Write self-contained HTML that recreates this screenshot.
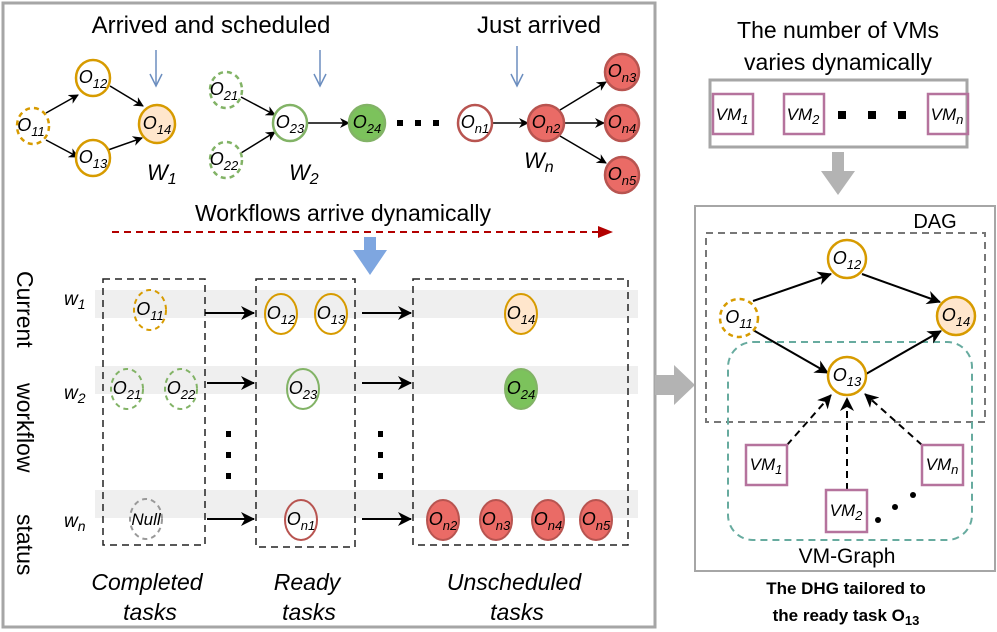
<!DOCTYPE html>
<html><head><meta charset="utf-8"><style>
body{margin:0;background:#fff}
svg{display:block}
text{font-family:"Liberation Sans",sans-serif}
.n{font-style:italic;font-size:18px;text-anchor:middle}
.s{font-size:13px}
</style></head><body>
<svg width="997" height="632" viewBox="0 0 997 632" xmlns="http://www.w3.org/2000/svg">
<defs>
<marker id="a" markerWidth="10" markerHeight="10" refX="9" refY="5" orient="auto" markerUnits="userSpaceOnUse"><path d="M0,0 L10,5 L0,10 L3,5 z" fill="#000"/></marker>
<marker id="ab" markerWidth="14" markerHeight="14" refX="13" refY="7" orient="auto" markerUnits="userSpaceOnUse"><path d="M0,0 L14,7 L0,14 L4,7 z" fill="#000"/></marker>
</defs>
<rect x="3" y="3" width="652" height="624" fill="none" stroke="#A6A6A6" stroke-width="3"/>
<text x="211" y="33" font-size="24" text-anchor="middle">Arrived and scheduled</text>
<text x="539" y="33" font-size="24" text-anchor="middle">Just arrived</text>
<g stroke="#6C8EBF" stroke-width="1.5" fill="none">
<line x1="156" y1="50" x2="156" y2="86"/><path d="M150,74 L156,86 L162,74"/>
<line x1="320" y1="50" x2="320" y2="86"/><path d="M314,74 L320,86 L326,74"/>
<line x1="517" y1="46" x2="517" y2="86"/><path d="M511,74 L517,86 L523,74"/>
</g>
<g stroke="#000" stroke-width="1.5" marker-end="url(#a)">
<line x1="46" y1="113" x2="78" y2="95"/><line x1="46" y1="140" x2="78" y2="157"/>
<line x1="110" y1="86" x2="143" y2="106"/><line x1="108" y1="150" x2="142" y2="138"/>
<line x1="241" y1="97" x2="275" y2="115"/><line x1="241" y1="153" x2="275" y2="132"/>
<line x1="307" y1="123" x2="349" y2="123"/>
<line x1="492" y1="123" x2="528" y2="123"/>
<line x1="560" y1="110" x2="606" y2="82"/><line x1="563" y1="123" x2="604" y2="123"/><line x1="560" y1="136" x2="606" y2="163"/>
</g>
<g stroke-width="2.5">
<ellipse cx="33" cy="126" rx="16" ry="18" fill="#fff" stroke="#D79B00" stroke-dasharray="5,4"/>
<ellipse cx="93" cy="78" rx="17" ry="18" fill="#fff" stroke="#D79B00"/>
<ellipse cx="93" cy="158" rx="17" ry="18" fill="#fff" stroke="#D79B00"/>
<ellipse cx="157" cy="124" rx="18" ry="19" fill="#FFE6CC" stroke="#D79B00"/>
<ellipse cx="226" cy="90" rx="16" ry="18" fill="#fff" stroke="#82B366" stroke-dasharray="5,4"/>
<ellipse cx="226" cy="160" rx="16" ry="18" fill="#fff" stroke="#82B366" stroke-dasharray="5,4"/>
<ellipse cx="290" cy="123" rx="17" ry="18" fill="#fff" stroke="#82B366"/>
<ellipse cx="367" cy="123" rx="18" ry="18" fill="#7CC25C" stroke="#82B366"/>
<ellipse cx="475" cy="123" rx="17" ry="18" fill="#fff" stroke="#B85450"/>
<ellipse cx="546" cy="123" rx="18" ry="18" fill="#EA6B66" stroke="#B85450"/>
<ellipse cx="622" cy="72" rx="17" ry="18" fill="#EA6B66" stroke="#B85450"/>
<ellipse cx="622" cy="123" rx="17" ry="18" fill="#EA6B66" stroke="#B85450"/>
<ellipse cx="622" cy="175" rx="17" ry="18" fill="#EA6B66" stroke="#B85450"/>
</g>
<g class="n">
<text x="31" y="131">O<tspan class="s" dy="5">11</tspan></text>
<text x="93" y="83">O<tspan class="s" dy="5">12</tspan></text>
<text x="93" y="163">O<tspan class="s" dy="5">13</tspan></text>
<text x="157" y="129">O<tspan class="s" dy="5">14</tspan></text>
<text x="224" y="95">O<tspan class="s" dy="5">21</tspan></text>
<text x="224" y="165">O<tspan class="s" dy="5">22</tspan></text>
<text x="290" y="128">O<tspan class="s" dy="5">23</tspan></text>
<text x="367" y="128">O<tspan class="s" dy="5">24</tspan></text>
<text x="475" y="128">O<tspan class="s" dy="5">n1</tspan></text>
<text x="546" y="128">O<tspan class="s" dy="5">n2</tspan></text>
<text x="622" y="77">O<tspan class="s" dy="5">n3</tspan></text>
<text x="622" y="128">O<tspan class="s" dy="5">n4</tspan></text>
<text x="622" y="180">O<tspan class="s" dy="5">n5</tspan></text>
</g>
<text x="147" y="180" font-size="22" font-style="italic">W<tspan font-size="16" dy="4">1</tspan></text>
<text x="289" y="180" font-size="22" font-style="italic">W<tspan font-size="16" dy="4">2</tspan></text>
<text x="524" y="168" font-size="22" font-style="italic">W<tspan font-size="16" dy="4">n</tspan></text>
<g fill="#000"><rect x="397" y="120" width="6" height="6"/><rect x="415" y="120" width="6" height="6"/><rect x="433" y="120" width="6" height="6"/></g>
<text x="343" y="221" font-size="23" text-anchor="middle">Workflows arrive dynamically</text>
<line x1="112" y1="232" x2="600" y2="232" stroke="#B20000" stroke-width="2" stroke-dasharray="7,5"/>
<path d="M598,226 L613,232 L598,238 z" fill="#B20000"/>
<rect x="364" y="237" width="12" height="13" fill="#7EA6E0"/>
<path d="M353,250 L387,250 L370,275 z" fill="#7EA6E0"/>
<g fill="#EFEFEF"><rect x="95" y="290" width="543" height="28"/><rect x="95" y="366" width="543" height="28"/><rect x="95" y="490" width="543" height="28"/></g>
<g fill="none" stroke="#222" stroke-width="1.5" stroke-dasharray="7,5">
<rect x="103" y="279" width="102" height="266"/><rect x="256" y="279" width="99" height="268"/><rect x="413" y="279" width="215" height="266"/>
</g>
<g stroke="#000" stroke-width="2" marker-end="url(#ab)">
<line x1="205" y1="313" x2="254" y2="313"/><line x1="362" y1="313" x2="411" y2="313"/>
<line x1="207" y1="383" x2="254" y2="383"/><line x1="362" y1="383" x2="411" y2="383"/>
<line x1="207" y1="519" x2="254" y2="519"/><line x1="362" y1="519" x2="411" y2="519"/>
</g>
<g fill="#000"><rect x="226" y="431" width="5" height="6"/><rect x="226" y="452" width="5" height="6"/><rect x="226" y="473" width="5" height="6"/><rect x="378" y="431" width="5" height="6"/><rect x="378" y="452" width="5" height="6"/><rect x="378" y="473" width="5" height="6"/></g>
<g stroke-width="2">
<ellipse cx="150" cy="310" rx="16" ry="20" fill="none" stroke="#D79B00" stroke-dasharray="5,4"/>
<ellipse cx="281" cy="314" rx="16" ry="20" fill="none" stroke="#D79B00"/>
<ellipse cx="331" cy="314" rx="16" ry="20" fill="none" stroke="#D79B00"/>
<ellipse cx="521" cy="314" rx="16" ry="20" fill="#FFE6CC" stroke="#D79B00"/>
<ellipse cx="127" cy="389" rx="16" ry="20" fill="none" stroke="#82B366" stroke-dasharray="5,4"/>
<ellipse cx="181" cy="389" rx="16" ry="20" fill="none" stroke="#82B366" stroke-dasharray="5,4"/>
<ellipse cx="303" cy="389" rx="16" ry="20" fill="none" stroke="#82B366"/>
<ellipse cx="521" cy="389" rx="16" ry="20" fill="#7CC25C" stroke="#82B366"/>
<ellipse cx="146" cy="519" rx="16" ry="20" fill="none" stroke="#999" stroke-dasharray="5,4"/>
<ellipse cx="301" cy="520" rx="16" ry="20" fill="none" stroke="#B85450"/>
<ellipse cx="443" cy="520" rx="16" ry="20" fill="#EA6B66" stroke="#B85450"/>
<ellipse cx="496" cy="520" rx="16" ry="20" fill="#EA6B66" stroke="#B85450"/>
<ellipse cx="548" cy="520" rx="16" ry="20" fill="#EA6B66" stroke="#B85450"/>
<ellipse cx="596" cy="520" rx="16" ry="20" fill="#EA6B66" stroke="#B85450"/>
</g>
<g class="n">
<text x="150" y="315">O<tspan class="s" dy="5">11</tspan></text>
<text x="281" y="319">O<tspan class="s" dy="5">12</tspan></text>
<text x="331" y="319">O<tspan class="s" dy="5">13</tspan></text>
<text x="521" y="319">O<tspan class="s" dy="5">14</tspan></text>
<text x="127" y="394">O<tspan class="s" dy="5">21</tspan></text>
<text x="181" y="394">O<tspan class="s" dy="5">22</tspan></text>
<text x="303" y="394">O<tspan class="s" dy="5">23</tspan></text>
<text x="521" y="394">O<tspan class="s" dy="5">24</tspan></text>
<text x="146" y="525" font-size="17">Null</text>
<text x="301" y="525">O<tspan class="s" dy="5">n1</tspan></text>
<text x="443" y="525">O<tspan class="s" dy="5">n2</tspan></text>
<text x="496" y="525">O<tspan class="s" dy="5">n3</tspan></text>
<text x="548" y="525">O<tspan class="s" dy="5">n4</tspan></text>
<text x="596" y="525">O<tspan class="s" dy="5">n5</tspan></text>
</g>
<g font-size="19" font-style="italic">
<text x="64" y="305">w<tspan font-size="14" dy="4">1</tspan></text>
<text x="64" y="399">w<tspan font-size="14" dy="4">2</tspan></text>
<text x="64" y="527">w<tspan font-size="14" dy="4">n</tspan></text>
</g>
<g font-size="23">
<text transform="translate(17,271) rotate(90)">Current</text>
<text transform="translate(17,383) rotate(90)">workflow</text>
<text transform="translate(17,514) rotate(90)">status</text>
</g>
<g font-size="23" font-style="italic" text-anchor="middle">
<text x="147" y="590">Completed</text><text x="150" y="620">tasks</text>
<text x="307" y="590">Ready</text><text x="309" y="620">tasks</text>
<text x="514" y="590">Unscheduled</text><text x="517" y="620">tasks</text>
</g>
<rect x="655" y="375" width="20" height="20" fill="#B3B3B3"/>
<path d="M674,365 L695,385 L674,405 z" fill="#B3B3B3"/>
<rect x="832" y="152" width="12" height="20" fill="#B3B3B3"/>
<path d="M821,171 L855,171 L838,195 z" fill="#B3B3B3"/>
<text x="838" y="38" font-size="23" text-anchor="middle">The number of VMs</text>
<text x="838" y="70" font-size="23" text-anchor="middle">varies dynamically</text>
<rect x="710" y="80" width="257" height="67" fill="none" stroke="#A6A6A6" stroke-width="3"/>
<g fill="none" stroke="#B5739D" stroke-width="2.5"><rect x="713" y="94" width="40" height="40"/><rect x="784" y="94" width="40" height="40"/><rect x="928" y="94" width="40" height="40"/></g>
<g font-size="17" font-style="italic" text-anchor="middle">
<text x="732" y="120">VM<tspan font-size="13" dy="4">1</tspan></text>
<text x="803" y="120">VM<tspan font-size="13" dy="4">2</tspan></text>
<text x="947" y="120">VM<tspan font-size="13" dy="4">n</tspan></text>
</g>
<g fill="#000"><rect x="838" y="111" width="8" height="8"/><rect x="868" y="111" width="8" height="8"/><rect x="898" y="111" width="8" height="8"/></g>
<rect x="695" y="206" width="300" height="365" fill="none" stroke="#A6A6A6" stroke-width="2"/>
<text x="935" y="228" font-size="20" text-anchor="middle">DAG</text>
<rect x="706" y="233" width="279" height="189" fill="none" stroke="#777" stroke-width="2" stroke-dasharray="7,5"/>
<rect x="728" y="342" width="244" height="198" rx="25" fill="none" stroke="#67AB9F" stroke-width="2" stroke-dasharray="7,5"/>
<g stroke="#000" stroke-width="2" marker-end="url(#ab)">
<line x1="753" y1="301" x2="831" y2="274"/><line x1="862" y1="274" x2="940" y2="302"/>
<line x1="753" y1="330" x2="828" y2="373"/><line x1="866" y1="374" x2="941" y2="331"/>
</g>
<g stroke="#000" stroke-width="2" stroke-dasharray="7,5" marker-end="url(#ab)">
<line x1="787" y1="445" x2="831" y2="395"/><line x1="847" y1="490" x2="847" y2="398"/><line x1="922" y1="445" x2="865" y2="394"/>
</g>
<g fill="#000"><circle cx="878" cy="520" r="3"/><circle cx="895" cy="507" r="3"/><circle cx="913" cy="495" r="3"/></g>
<g stroke-width="2.5" stroke="#D79B00">
<circle cx="847" cy="259" r="19" fill="#fff"/>
<circle cx="739" cy="318" r="19" fill="#fff" stroke-dasharray="5,4"/>
<circle cx="956" cy="316" r="19" fill="#FFE6CC"/>
<circle cx="847" cy="376" r="19" fill="#fff"/>
</g>
<g class="n">
<text x="847" y="264">O<tspan class="s" dy="5">12</tspan></text>
<text x="739" y="323">O<tspan class="s" dy="5">11</tspan></text>
<text x="956" y="321">O<tspan class="s" dy="5">14</tspan></text>
<text x="847" y="381">O<tspan class="s" dy="5">13</tspan></text>
</g>
<g fill="#fff" stroke="#B5739D" stroke-width="2.5"><rect x="746" y="445" width="41" height="40"/><rect x="922" y="445" width="41" height="40"/><rect x="826" y="490" width="41" height="42"/></g>
<g font-size="17" font-style="italic" text-anchor="middle">
<text x="766" y="470">VM<tspan font-size="13" dy="4">1</tspan></text>
<text x="942" y="470">VM<tspan font-size="13" dy="4">n</tspan></text>
<text x="846" y="516">VM<tspan font-size="13" dy="4">2</tspan></text>
</g>
<text x="847" y="563" font-size="21" text-anchor="middle">VM-Graph</text>
<text x="846" y="594" font-size="17" font-weight="bold" text-anchor="middle">The DHG tailored to</text>
<text x="846" y="621" font-size="17" font-weight="bold" text-anchor="middle">the ready task O<tspan font-size="13" dy="4">13</tspan></text>
</svg>
</body></html>
